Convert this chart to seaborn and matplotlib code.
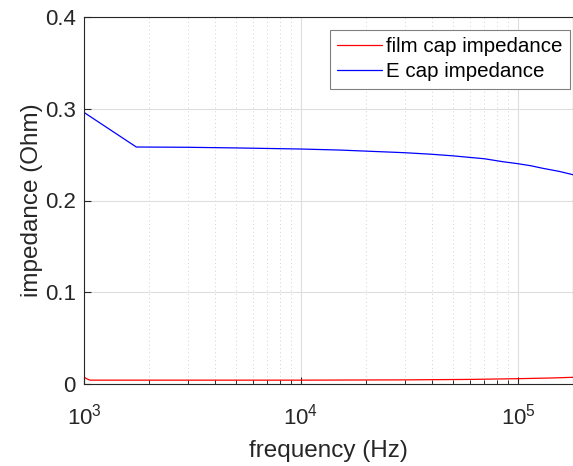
import matplotlib
matplotlib.use("Agg")
import matplotlib.pyplot as plt
import seaborn as sns
import pandas as pd
from matplotlib.ticker import FixedLocator, LogLocator, NullFormatter

# data
freq_film = [1000, 1015, 1030, 1065, 2000, 5000, 10000, 30000, 60000, 100000, 140000, 180000]
z_film = [0.0073, 0.0066, 0.0057, 0.0042, 0.0042, 0.0042, 0.0042, 0.0045, 0.0050, 0.0058, 0.0065, 0.0073]

freq_ecap = [1000, 1742, 3000, 5000, 10000, 15000, 20000, 30000, 40000, 50000, 70000,
             85000, 100000, 115000, 130000, 155000, 180000]
z_ecap = [0.296, 0.2583, 0.2580, 0.2573, 0.2561, 0.2550, 0.2538, 0.2521, 0.2504, 0.2487, 0.2455,
          0.2423, 0.2401, 0.2378, 0.2351, 0.2317, 0.2280]

y_ticks = [0, 0.1, 0.2, 0.3, 0.4]
y_ticklabels = ["0", "0.1", "0.2", "0.3", "0.4"]
x_ticks = [1e3, 1e4, 1e5]
x_ticklabels = [r"$\mathregular{10^{3}}$", r"$\mathregular{10^{4}}$", r"$\mathregular{10^{5}}$"]

sns.set_theme(style="white")
plt.rcParams["font.family"] = ["Liberation Sans", "DejaVu Sans"]
plt.rcParams["mathtext.fontset"] = "custom"
plt.rcParams["mathtext.rm"] = "Liberation Sans"
plt.rcParams["mathtext.it"] = "Liberation Sans:italic"
plt.rcParams["mathtext.bf"] = "Liberation Sans:bold"

txt = (0.15, 0.15, 0.15)

fig = plt.figure(figsize=(5.73, 4.66), dpi=100)
ax = fig.add_axes([84 / 573, (466 - 384) / 466, (573.4 - 84) / 573, (384 - 17) / 466])

df_film = pd.DataFrame({"f": freq_film, "z": z_film})
df_ecap = pd.DataFrame({"f": freq_ecap, "z": z_ecap})
sns.lineplot(data=df_film, x="f", y="z", ax=ax, color=(1, 0, 0), lw=0.9,
             sort=False, estimator=None, label="film cap impedance")
sns.lineplot(data=df_ecap, x="f", y="z", ax=ax, color=(0, 0, 1), lw=0.9,
             sort=False, estimator=None, label="E cap impedance")

ax.set_xscale("log")
ax.set_xlim(1000, 180000)
ax.set_ylim(0, 0.4)
ax.xaxis.set_major_locator(FixedLocator(x_ticks))
ax.set_xticklabels(x_ticklabels)
ax.xaxis.set_minor_locator(LogLocator(base=10, subs=range(2, 10), numticks=20))
ax.xaxis.set_minor_formatter(NullFormatter())
ax.set_yticks(y_ticks)
ax.set_yticklabels(y_ticklabels)

ax.grid(True, which="major", color=(0.87, 0.87, 0.87), lw=0.8, ls="-")
ax.grid(True, which="minor", axis="x", color=(0.82, 0.82, 0.82), lw=0.7, ls=(0, (1, 3)))
ax.set_axisbelow(True)

ax.tick_params(axis="both", which="major", direction="in", length=5, width=0.8,
               colors=txt, labelsize=16, labelcolor=txt, pad=6,
               bottom=True, left=True, top=False, right=False)
ax.tick_params(axis="x", which="minor", direction="in", length=3, width=0.7,
               colors=txt, bottom=True, top=False)
ax.tick_params(axis="x", which="major", pad=14)

for s in ax.spines.values():
    s.set_color(txt)
    s.set_linewidth(0.8)

ax.set_xlabel("frequency (Hz)", fontsize=17.5, color=txt, labelpad=8)
ax.set_ylabel("impedance (Ohm)", fontsize=17.5, color=txt, labelpad=1)

leg = ax.legend(loc="upper right", bbox_to_anchor=((570 - 84) / (573.4 - 84), (384 - 30) / (384 - 17)),
                fontsize=14.8, frameon=True, fancybox=False, borderaxespad=0,
                handlelength=2.2, handletextpad=0.2, borderpad=0.35, labelspacing=0.3)
leg.get_frame().set_edgecolor((0.5, 0.5, 0.5))
leg.get_frame().set_linewidth(0.8)
leg.get_frame().set_facecolor("white")
leg.get_frame().set_alpha(1)
for t in leg.get_texts():
    t.set_color((0, 0, 0))

fig.savefig("out.png", dpi=100)
